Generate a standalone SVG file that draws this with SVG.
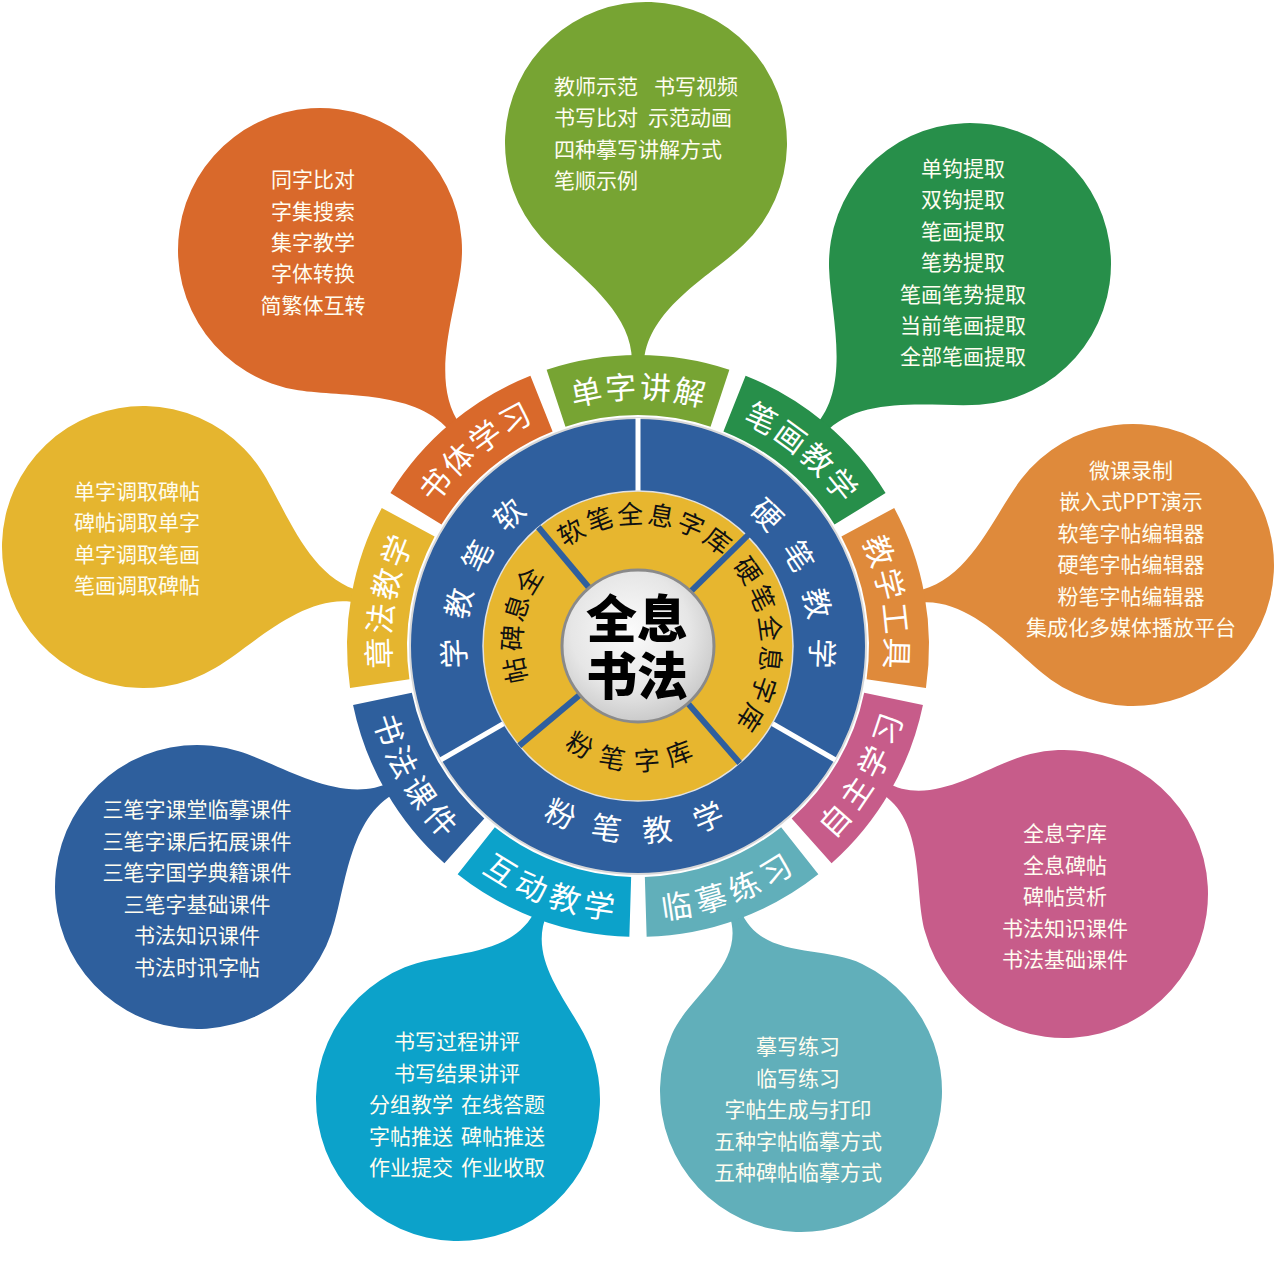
<svg xmlns="http://www.w3.org/2000/svg" width="1277" height="1262" viewBox="0 0 1277 1262">
<defs>
<style>
text{font-family:"Noto Sans CJK SC","Noto Sans",sans-serif;}
.bt{font-size:21px;fill:#fffdf0;text-anchor:middle;dominant-baseline:central;}
.btl{font-size:21px;fill:#fffdf0;text-anchor:start;dominant-baseline:central;}
.tl{font-size:31px;fill:#fff;text-anchor:middle;dominant-baseline:central;}
.rl{font-size:30px;fill:#fff;text-anchor:middle;dominant-baseline:central;}
.yl{font-size:26px;fill:#111;text-anchor:middle;dominant-baseline:central;}
.ct{font-size:51px;font-weight:900;fill:#000;text-anchor:middle;dominant-baseline:central;}
</style>
<path id="tab" d="M219.31,-72.53 L276.28,-91.37 A291,291 0 0 1 276.28,91.37 L219.31,72.53 A231,231 0 0 0 219.31,-72.53Z"/>
<radialGradient id="cg" cx="0.45" cy="0.4" r="0.65">
<stop offset="0" stop-color="#fbfbfb"/>
<stop offset="0.6" stop-color="#e6e6e6"/>
<stop offset="1" stop-color="#c4c4c4"/>
</radialGradient>
</defs>
<rect width="1277" height="1262" fill="#fff"/>

<!-- balloons -->
<g id="balloon-shuti">
<path fill="#D9692B" transform="translate(320 250) rotate(52.8)" d="M98.65,-102.14 C131.02,-70.88 171,-6 226,-6 L226,6 C171,6 131.02,70.88 98.65,102.14 A142,142 0 1 1 98.65,-102.14Z"/>
<text class="bt" x="313" y="178">同字比对</text>
<text class="bt" x="313" y="210">字集搜索</text>
<text class="bt" x="313" y="241">集字教学</text>
<text class="bt" x="313" y="272">字体转换</text>
<text class="bt" x="313" y="304">简繁体互转</text>
</g>
<g id="balloon-danzi">
<path fill="#77A433" transform="translate(646 143) rotate(92.1)" d="M97.95,-101.42 C130.32,-70.16 166,-6 221,-6 L221,6 C166,6 130.32,70.16 97.95,101.42 A141,141 0 1 1 97.95,-101.42Z"/>
<text class="btl" x="554" y="85">教师示范 <tspan x="654">书写视频</tspan></text>
<text class="btl" x="554" y="116">书写比对 <tspan x="648">示范动画</tspan></text>
<text class="btl" x="554" y="148">四种摹写讲解方式</text>
<text class="btl" x="554" y="179">笔顺示例</text>
</g>
<g id="balloon-bihua">
<path fill="#278F4A" transform="translate(970 264) rotate(132.2)" d="M97.95,-101.42 C130.32,-70.16 169,-6 224,-6 L224,6 C169,6 130.32,70.16 97.95,101.42 A141,141 0 1 1 97.95,-101.42Z"/>
<text class="bt" x="963" y="167">单钩提取</text>
<text class="bt" x="963" y="198">双钩提取</text>
<text class="bt" x="963" y="230">笔画提取</text>
<text class="bt" x="963" y="261">笔势提取</text>
<text class="bt" x="963" y="293">笔画笔势提取</text>
<text class="bt" x="963" y="324">当前笔画提取</text>
<text class="bt" x="963" y="355">全部笔画提取</text>
</g>
<g id="balloon-gongju">
<path fill="#DF8A3B" transform="translate(1133 565) rotate(171.6)" d="M97.95,-101.42 C130.32,-70.16 165,-6 220,-6 L220,6 C165,6 130.32,70.16 97.95,101.42 A141,141 0 1 1 97.95,-101.42Z"/>
<text class="bt" x="1131" y="469">微课录制</text>
<text class="bt" x="1131" y="500">嵌入式PPT演示</text>
<text class="bt" x="1131" y="532">软笔字帖编辑器</text>
<text class="bt" x="1131" y="563">硬笔字帖编辑器</text>
<text class="bt" x="1131" y="595">粉笔字帖编辑器</text>
<text class="bt" x="1131" y="626">集成化多媒体播放平台</text>
</g>
<g id="balloon-zizhu">
<path fill="#C75C8A" transform="translate(1064 894) rotate(210.5)" d="M100.04,-103.58 C132.41,-72.32 156,-6 211,-6 L211,6 C156,6 132.41,72.32 100.04,103.58 A144,144 0 1 1 100.04,-103.58Z"/>
<text class="bt" x="1065" y="832">全息字库</text>
<text class="bt" x="1065" y="864">全息碑帖</text>
<text class="bt" x="1065" y="895">碑帖赏析</text>
<text class="bt" x="1065" y="927">书法知识课件</text>
<text class="bt" x="1065" y="958">书法基础课件</text>
</g>
<g id="balloon-linmo">
<path fill="#61AFBA" transform="translate(801 1091) rotate(249.7)" d="M97.95,-101.42 C130.32,-70.16 137,-6 192,-6 L192,6 C137,6 130.32,70.16 97.95,101.42 A141,141 0 1 1 97.95,-101.42Z"/>
<text class="bt" x="798" y="1045">摹写练习</text>
<text class="bt" x="798" y="1077">临写练习</text>
<text class="bt" x="798" y="1108">字帖生成与打印</text>
<text class="bt" x="798" y="1140">五种字帖临摹方式</text>
<text class="bt" x="798" y="1171">五种碑帖临摹方式</text>
</g>
<g id="balloon-hudong">
<path fill="#0CA2CA" transform="translate(458 1099) rotate(-66)" d="M98.65,-102.14 C131.02,-70.88 151,-6 206,-6 L206,6 C151,6 131.02,70.88 98.65,102.14 A142,142 0 1 1 98.65,-102.14Z"/>
<text class="bt" x="457" y="1040">书写过程讲评</text>
<text class="bt" x="457" y="1072">书写结果讲评</text>
<text class="btl" x="369" y="1103">分组教学 <tspan x="461">在线答题</tspan></text>
<text class="btl" x="369" y="1135">字帖推送 <tspan x="461">碑帖推送</tspan></text>
<text class="btl" x="369" y="1166">作业提交 <tspan x="461">作业收取</tspan></text>
</g>
<g id="balloon-kejian">
<path fill="#2E5F9D" transform="translate(197 887) rotate(-26.9)" d="M98.65,-102.14 C131.02,-70.88 166,-6 221,-6 L221,6 C166,6 131.02,70.88 98.65,102.14 A142,142 0 1 1 98.65,-102.14Z"/>
<text class="bt" x="197" y="808">三笔字课堂临摹课件</text>
<text class="bt" x="197" y="840">三笔字课后拓展课件</text>
<text class="bt" x="197" y="871">三笔字国学典籍课件</text>
<text class="bt" x="197" y="903">三笔字基础课件</text>
<text class="bt" x="197" y="934">书法知识课件</text>
<text class="bt" x="197" y="966">书法时讯字帖</text>
</g>
<g id="balloon-zhangfa">
<path fill="#E5B52F" transform="translate(143 547) rotate(13)" d="M97.95,-101.42 C130.32,-70.16 168,-6 223,-6 L223,6 C168,6 130.32,70.16 97.95,101.42 A141,141 0 1 1 97.95,-101.42Z"/>
<text class="bt" x="137" y="490">单字调取碑帖</text>
<text class="bt" x="137" y="521">碑帖调取单字</text>
<text class="bt" x="137" y="553">单字调取笔画</text>
<text class="bt" x="137" y="584">笔画调取碑帖</text>
</g>

<!-- rings -->
<g id="blue-ring">
<circle cx="638" cy="646" r="228" fill="#2F5F9E" stroke="#d8d8d8" stroke-width="2"/>
<g stroke="#fff" stroke-width="5">
<line x1="638" y1="491" x2="638" y2="418"/>
<line x1="772.2" y1="723.5" x2="835.5" y2="760"/>
<line x1="503.8" y1="723.5" x2="440.5" y2="760"/>
</g>
<text class="rl" transform="translate(638 646) rotate(177.7) translate(186 0) rotate(90)">学</text>
<text class="rl" transform="translate(638 646) rotate(193.4) translate(186 0) rotate(90)">教</text>
<text class="rl" transform="translate(638 646) rotate(209.3) translate(186 0) rotate(90)">笔</text>
<text class="rl" transform="translate(638 646) rotate(225.5) translate(186 0) rotate(90)">软</text>
<text class="rl" transform="translate(638 646) rotate(-45.5) translate(186 0) rotate(90)">硬</text>
<text class="rl" transform="translate(638 646) rotate(-29.3) translate(186 0) rotate(90)">笔</text>
<text class="rl" transform="translate(638 646) rotate(-13.4) translate(186 0) rotate(90)">教</text>
<text class="rl" transform="translate(638 646) rotate(2.3) translate(186 0) rotate(90)">学</text>
<text class="rl" transform="translate(638 646) rotate(114.8) translate(183 0) rotate(-90)">粉</text>
<text class="rl" transform="translate(638 646) rotate(99.8) translate(183 0) rotate(-90)">笔</text>
<text class="rl" transform="translate(638 646) rotate(84) translate(183 0) rotate(-90)">教</text>
<text class="rl" transform="translate(638 646) rotate(67.7) translate(183 0) rotate(-90)">学</text>
</g>
<g id="yellow-ring">
<circle cx="638" cy="646" r="155" fill="#E7B62F" stroke="#e2e2e2" stroke-width="1.5"/>
<g stroke="#2F5F9E" stroke-width="6">
<line x1="589.1" y1="587.8" x2="538.4" y2="527.3"/>
<line x1="690.8" y1="591.3" x2="749.5" y2="533.7"/>
<line x1="687.9" y1="703.4" x2="739.7" y2="763"/>
<line x1="579.8" y1="694.9" x2="519.3" y2="745.6"/>
</g>
<text class="yl" transform="translate(638 646) rotate(239.6) translate(134 0) rotate(90)">软</text>
<text class="yl" transform="translate(638 646) rotate(253.1) translate(134 0) rotate(90)">笔</text>
<text class="yl" transform="translate(638 646) rotate(266.6) translate(134 0) rotate(90)">全</text>
<text class="yl" transform="translate(638 646) rotate(280.1) translate(134 0) rotate(90)">息</text>
<text class="yl" transform="translate(638 646) rotate(293.6) translate(134 0) rotate(90)">字</text>
<text class="yl" transform="translate(638 646) rotate(307.1) translate(134 0) rotate(90)">库</text>
<text class="yl" transform="translate(638 646) rotate(-34.5) translate(135 0) rotate(90)">硬</text>
<text class="yl" transform="translate(638 646) rotate(-21.1) translate(135 0) rotate(90)">笔</text>
<text class="yl" transform="translate(638 646) rotate(-7.7) translate(135 0) rotate(90)">全</text>
<text class="yl" transform="translate(638 646) rotate(5.7) translate(135 0) rotate(90)">息</text>
<text class="yl" transform="translate(638 646) rotate(19.1) translate(135 0) rotate(90)">字</text>
<text class="yl" transform="translate(638 646) rotate(32.5) translate(135 0) rotate(90)">库</text>
<text class="yl" transform="translate(638 646) rotate(120.4) translate(113 0) rotate(-90)">粉</text>
<text class="yl" transform="translate(638 646) rotate(103) translate(113 0) rotate(-90)">笔</text>
<text class="yl" transform="translate(638 646) rotate(85.5) translate(113 0) rotate(-90)">字</text>
<text class="yl" transform="translate(638 646) rotate(69.1) translate(113 0) rotate(-90)">库</text>
<text class="yl" transform="translate(638 646) rotate(168.8) translate(127 0) rotate(90)">帖</text>
<text class="yl" transform="translate(638 646) rotate(183.6) translate(128 0) rotate(90)">碑</text>
<text class="yl" transform="translate(638 646) rotate(197.5) translate(129 0) rotate(90)">息</text>
<text class="yl" transform="translate(638 646) rotate(211) translate(129 0) rotate(90)">全</text>
</g>
<g id="center">
<circle cx="638" cy="646" r="76" fill="url(#cg)" stroke="#8a8a8a" stroke-width="3"/>
<text class="ct" x="637" y="616">全息<tspan x="637" dy="57">书法</tspan></text>
</g>

<!-- tabs -->
<g id="tab-shuti">
<use href="#tab" fill="#D9692B" transform="translate(638 646) rotate(230)"/>
<text class="tl" transform="translate(638 646) rotate(218.45) translate(261 0) rotate(90)">书</text>
<text class="tl" transform="translate(638 646) rotate(226.15) translate(261 0) rotate(90)">体</text>
<text class="tl" transform="translate(638 646) rotate(233.85) translate(261 0) rotate(90)">学</text>
<text class="tl" transform="translate(638 646) rotate(241.55) translate(261 0) rotate(90)">习</text>
</g>
<g id="tab-danzi">
<use href="#tab" fill="#77A433" transform="translate(638 646) rotate(270)"/>
<text class="tl" transform="translate(638 646) rotate(258.45) translate(261 0) rotate(90)">单</text>
<text class="tl" transform="translate(638 646) rotate(266.15) translate(261 0) rotate(90)">字</text>
<text class="tl" transform="translate(638 646) rotate(273.85) translate(261 0) rotate(90)">讲</text>
<text class="tl" transform="translate(638 646) rotate(281.55) translate(261 0) rotate(90)">解</text>
</g>
<g id="tab-bihua">
<use href="#tab" fill="#278F4A" transform="translate(638 646) rotate(310)"/>
<text class="tl" transform="translate(638 646) rotate(298.45) translate(261 0) rotate(90)">笔</text>
<text class="tl" transform="translate(638 646) rotate(306.15) translate(261 0) rotate(90)">画</text>
<text class="tl" transform="translate(638 646) rotate(313.85) translate(261 0) rotate(90)">教</text>
<text class="tl" transform="translate(638 646) rotate(321.55) translate(261 0) rotate(90)">学</text>
</g>
<g id="tab-gongju">
<use href="#tab" fill="#DF8A3B" transform="translate(638 646) rotate(350)"/>
<text class="tl" transform="translate(638 646) rotate(338.45) translate(261 0) rotate(90)">教</text>
<text class="tl" transform="translate(638 646) rotate(346.15) translate(261 0) rotate(90)">学</text>
<text class="tl" transform="translate(638 646) rotate(353.85) translate(261 0) rotate(90)">工</text>
<text class="tl" transform="translate(638 646) rotate(361.55) translate(261 0) rotate(90)">具</text>
</g>
<g id="tab-zizhu">
<use href="#tab" fill="#C75C8A" transform="translate(638 646) rotate(30)"/>
<text class="tl" transform="translate(638 646) rotate(41.55) translate(261 0) rotate(-90)">自</text>
<text class="tl" transform="translate(638 646) rotate(33.85) translate(261 0) rotate(-90)">主</text>
<text class="tl" transform="translate(638 646) rotate(26.15) translate(261 0) rotate(-90)">学</text>
<text class="tl" transform="translate(638 646) rotate(18.45) translate(261 0) rotate(-90)">习</text>
</g>
<g id="tab-linmo">
<use href="#tab" fill="#61AFBA" transform="translate(638 646) rotate(70)"/>
<text class="tl" transform="translate(638 646) rotate(81.55) translate(261 0) rotate(-90)">临</text>
<text class="tl" transform="translate(638 646) rotate(73.85) translate(261 0) rotate(-90)">摹</text>
<text class="tl" transform="translate(638 646) rotate(66.15) translate(261 0) rotate(-90)">练</text>
<text class="tl" transform="translate(638 646) rotate(58.45) translate(261 0) rotate(-90)">习</text>
</g>
<g id="tab-hudong">
<use href="#tab" fill="#0CA2CA" transform="translate(638 646) rotate(110)"/>
<text class="tl" transform="translate(638 646) rotate(121.55) translate(261 0) rotate(-90)">互</text>
<text class="tl" transform="translate(638 646) rotate(113.85) translate(261 0) rotate(-90)">动</text>
<text class="tl" transform="translate(638 646) rotate(106.15) translate(261 0) rotate(-90)">教</text>
<text class="tl" transform="translate(638 646) rotate(98.45) translate(261 0) rotate(-90)">学</text>
</g>
<g id="tab-kejian">
<use href="#tab" fill="#2E5F9D" transform="translate(638 646) rotate(150)"/>
<text class="tl" transform="translate(638 646) rotate(161.55) translate(261 0) rotate(-90)">书</text>
<text class="tl" transform="translate(638 646) rotate(153.85) translate(261 0) rotate(-90)">法</text>
<text class="tl" transform="translate(638 646) rotate(146.15) translate(261 0) rotate(-90)">课</text>
<text class="tl" transform="translate(638 646) rotate(138.45) translate(261 0) rotate(-90)">件</text>
</g>
<g id="tab-zhangfa">
<use href="#tab" fill="#E5B52F" transform="translate(638 646) rotate(190)"/>
<text class="tl" transform="translate(638 646) rotate(178.45) translate(261 0) rotate(90)">章</text>
<text class="tl" transform="translate(638 646) rotate(186.15) translate(261 0) rotate(90)">法</text>
<text class="tl" transform="translate(638 646) rotate(193.85) translate(261 0) rotate(90)">教</text>
<text class="tl" transform="translate(638 646) rotate(201.55) translate(261 0) rotate(90)">学</text>
</g>
</svg>
